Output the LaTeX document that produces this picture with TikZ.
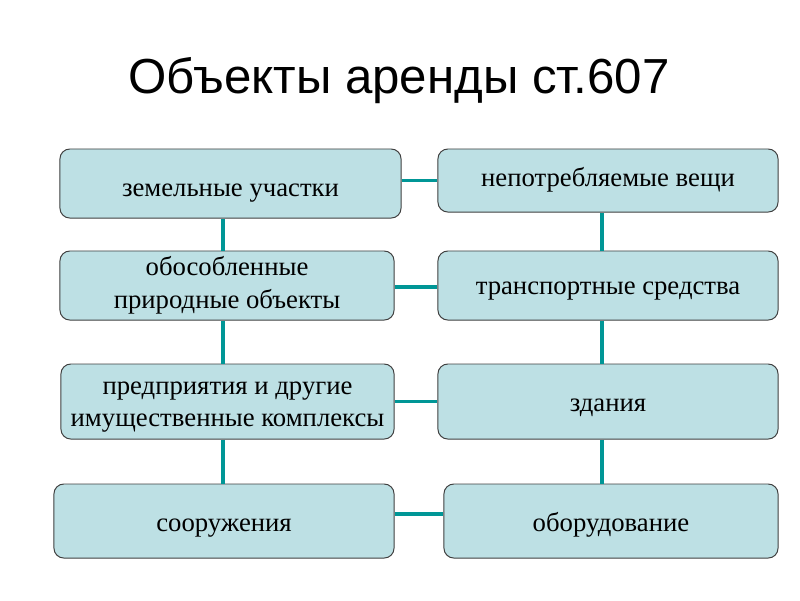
\documentclass[tikz,border=0pt]{standalone}
\usepackage{fontspec}
\setmainfont{Liberation Serif}
\newfontfamily\titlefont{Liberation Sans}
\definecolor{objfill}{RGB}{189,224,228}
\definecolor{linkteal}{RGB}{0,150,150}

\begin{document}
\begin{tikzpicture}[
    x=0.025cm, y=-0.025cm,
    obj node/.style={rectangle, rounded corners=7pt, draw=black!75, line width=0.7pt, fill=objfill, align=center, inner sep=2pt, font=\fontsize{19}{23}\selectfont, text depth=3pt},
    link edge/.style={line width=2.8pt, draw=linkteal}
]
\useasboundingbox (0,0) rectangle (800,600);

% заголовок
\node[font=\titlefont\fontsize{35}{40}\selectfont, anchor=base] (title) at (399,93) {Объекты аренды ст.607};

% левая колонка
\node[obj node, minimum width=8.525cm, minimum height=1.725cm, text height=20.8pt] (L1) at (230.5,183.5) {земельные участки};
\node[obj node, minimum width=8.35cm, minimum height=1.725cm, text height=35pt] (L2) at (227,285.5) {обособленные\\природные объекты};
\node[obj node, minimum width=8.325cm, minimum height=1.875cm, text height=39.2pt] (L3) at (227.5,401.5) {предприятия и другие\\имущественные комплексы};
\node[obj node, minimum width=8.5cm, minimum height=1.85cm, text height=18.2pt] (L4) at (224,521) {сооружения};

% правая колонка
\node[obj node, minimum width=8.5cm, minimum height=1.575cm, text height=11.8pt] (R1) at (608,180.5) {непотребляемые вещи};
\node[obj node, minimum width=8.5cm, minimum height=1.725cm, text height=16.4pt] (R2) at (608,285.5) {транспортные средства};
\node[obj node, minimum width=8.5cm, minimum height=1.875cm, text height=17.4pt] (R3) at (608,401.5) {здания};
\node[obj node, minimum width=8.35cm, minimum height=1.85cm, text height=18.2pt] (R4) at (611,521) {оборудование};

% связи
\coordinate (lx) at (223,0);
\coordinate (rx) at (602,0);
\draw[link edge] (L1.east |- R1) -- (R1.west);
\draw[link edge] ([yshift=-1.5*0.025cm]L2.east) -- ([yshift=-1.5*0.025cm]R2.west);
\draw[link edge] (L3.east) -- (R3.west);
\draw[link edge] ([yshift=7*0.025cm]L4.east) -- ([yshift=7*0.025cm]R4.west);
\draw[link edge] (L1.south -| lx) -- (L2.north -| lx);
\draw[link edge] (L2.south -| lx) -- (L3.north -| lx);
\draw[link edge] (L3.south -| lx) -- (L4.north -| lx);
\draw[link edge] (R1.south -| rx) -- (R2.north -| rx);
\draw[link edge] (R2.south -| rx) -- (R3.north -| rx);
\draw[link edge] (R3.south -| rx) -- (R4.north -| rx);

\end{tikzpicture}
\end{document}
